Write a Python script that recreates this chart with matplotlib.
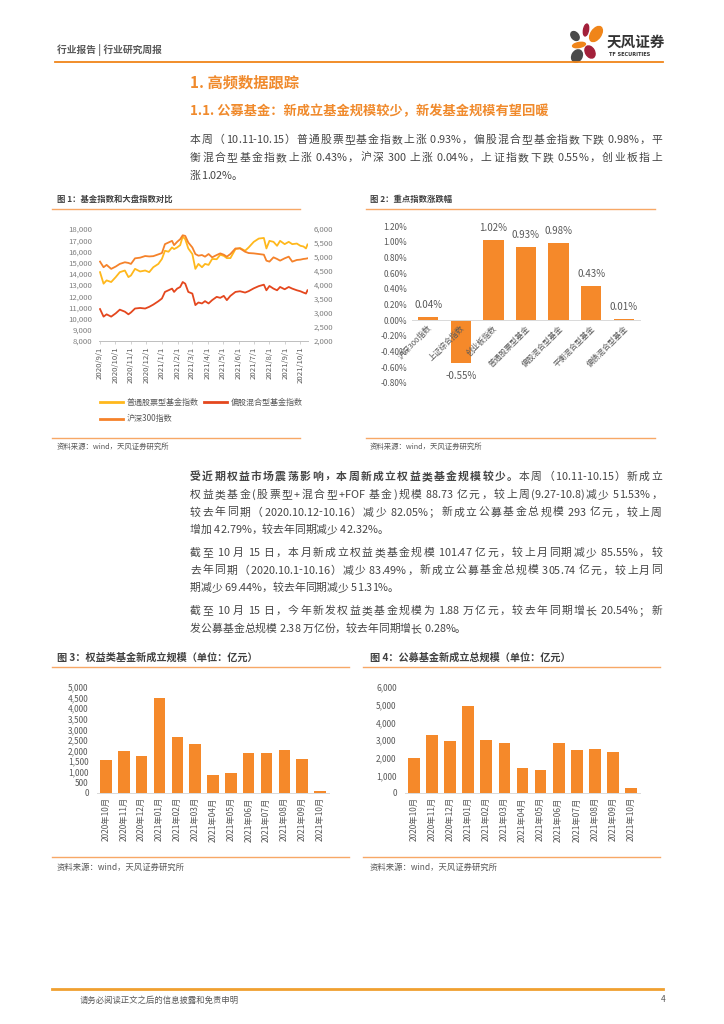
import numpy as np
import pandas as pd
import matplotlib
matplotlib.use('Agg')
import matplotlib.pyplot as plt
from matplotlib.lines import Line2D
from matplotlib.patches import Ellipse
from matplotlib.font_manager import FontProperties, findfont, get_font

plt.rcParams['font.family'] = ['Noto Sans CJK SC', 'DejaVu Sans']
plt.rcParams['axes.unicode_minus'] = False

W, H = 724, 1024
ORANGE = '#F08519'
BAR = '#F5892A'
LINE_LT = '#F7A866'
GRAY = '#595959'
BODY = '#454545'

# ---- 图1 数据
idx_dates = ['2020-09-01', '2020-09-08', '2020-09-14', '2020-09-23', '2020-10-02', '2020-10-10',
             '2020-10-20', '2020-10-27', '2020-11-01', '2020-11-09', '2020-11-19', '2020-11-29',
             '2020-12-07', '2020-12-15', '2020-12-25', '2021-01-01', '2021-01-07', '2021-01-14',
             '2021-01-21', '2021-01-25', '2021-01-31', '2021-02-06', '2021-02-11', '2021-02-16',
             '2021-02-22', '2021-03-02', '2021-03-08', '2021-03-14', '2021-03-21', '2021-03-27',
             '2021-04-03', '2021-04-10', '2021-04-19', '2021-04-26', '2021-05-03', '2021-05-09',
             '2021-05-16', '2021-05-26', '2021-06-04', '2021-06-14', '2021-06-21', '2021-07-01',
             '2021-07-11', '2021-07-21', '2021-07-26', '2021-08-01', '2021-08-09', '2021-08-16',
             '2021-08-22', '2021-08-31', '2021-09-08', '2021-09-15', '2021-09-24', '2021-10-01',
             '2021-10-07', '2021-10-12', '2021-10-15']
stock_fund = [14147, 13118, 13412, 13265, 13706, 14147, 14294, 13706, 13853, 14441, 14206, 14294,
              14147, 14588, 14882, 15324, 16059, 15971, 16353, 16206, 16353, 16559, 17324, 17088,
              16265, 15765, 14441, 14882, 14588, 14882, 14794, 15324, 15300, 15700, 15600, 15400,
              15400, 16200, 16300, 16059, 16353, 16850, 17147, 17200, 16265, 16941, 16853, 16500,
              16941, 16647, 16853, 16647, 16700, 16500, 16441, 16265, 16618]
mixed_fund = [10853, 10176, 10382, 10176, 10471, 10800, 10618, 10382, 10550, 10900, 10950, 10900,
              11050, 11250, 11550, 11794, 12382, 12529, 12676, 12382, 12676, 12824, 13265, 13118,
              12382, 12235, 11206, 11441, 11353, 11559, 11353, 11647, 11941, 11853, 12029, 11647,
              12029, 12382, 12441, 12324, 12450, 12700, 12900, 13029, 12529, 12912, 12676, 12529,
              12824, 12618, 12824, 12676, 12529, 12441, 12324, 12235, 12529]
hs300 = [4835, 4635, 4718, 4576, 4659, 4753, 4812, 4788, 4753, 4953, 4976, 5035,
         5020, 5030, 5094, 5141, 5459, 5518, 5576, 5424, 5541, 5635, 5776, 5753,
         5518, 5341, 5106, 5047, 5070, 5012, 5106, 4988, 5070, 5129, 5082, 5012,
         5106, 5306, 5306, 5188, 5141, 5129, 5106, 5082, 4870, 4835, 4988, 4930,
         4870, 4953, 5012, 4835, 4894, 4906, 4930, 4941, 4953]
series_names = ['普通股票型基金指数', '偏股混合型基金指数', '沪深300指数']
month_ticks = ['2020-09-01', '2020-10-01', '2020-11-01', '2020-12-01', '2021-01-01', '2021-02-01',
               '2021-03-01', '2021-04-01', '2021-05-01', '2021-06-01', '2021-07-01', '2021-08-01',
               '2021-09-01', '2021-10-01']
month_labels = ['2020/9/1', '2020/10/1', '2020/11/1', '2020/12/1', '2021/1/1', '2021/2/1',
                '2021/3/1', '2021/4/1', '2021/5/1', '2021/6/1', '2021/7/1', '2021/8/1',
                '2021/9/1', '2021/10/1']

# ---- 图2 数据
chg_names = ['沪深300指数', '上证综合指数', '创业板指数', '普通股票型基金', '偏股混合型基金',
             '平衡混合型基金', '偏债混合型基金']
chg_values = [0.04, -0.55, 1.02, 0.93, 0.98, 0.43, 0.01]

# ---- 图3/图4 数据
months = ['2020年10月', '2020年11月', '2020年12月', '2021年01月', '2021年02月', '2021年03月',
          '2021年04月', '2021年05月', '2021年06月', '2021年07月', '2021年08月', '2021年09月',
          '2021年10月']
equity_new = [1565, 1985, 1750, 4500, 2655, 2300, 865, 925, 1875, 1905, 2015, 1625, 101.47]
total_new = [1970, 3280, 2945, 4910, 2980, 2830, 1390, 1315, 2850, 2440, 2475, 2345, 305.74]

fig = plt.figure(figsize=(W / 100, H / 100), dpi=100)


def box(x0, y0, x1, y1):
    return [x0 / W, 1 - y1 / H, (x1 - x0) / W, (y1 - y0) / H]


def hline(x0, x1, y, color, lw):
    fig.add_artist(Line2D([x0 / W, x1 / W], [1 - y / H] * 2, transform=fig.transFigure,
                          color=color, lw=lw))


def txt(x, y, s, size, color=BODY, weight='normal', **kw):
    fig.text(x / W, 1 - y / H, s, fontsize=size, color=color, weight=weight,
             va='center', **kw)


def advance(ch, size, weight):
    f = get_font(findfont(FontProperties(family='Noto Sans CJK SC', weight=weight)))
    f.set_size(size, 100)
    return f.load_char(ord(ch)).linearHoriAdvance / 65536


def body_line(y, parts, justify=True, x=190, right=662, size=7.8):
    # 两端对齐：逐字排版，多余空间分配到中文字符之间
    chars = [(c, w) for s, w in parts for c in s]
    adv = [advance(c, size, w) for c, w in chars]
    gaps = [i for i in range(len(chars) - 1)
            if ord(chars[i][0]) > 255 or ord(chars[i + 1][0]) > 255]
    extra = (right - x - sum(adv)) / len(gaps) if justify and gaps else 0
    cx = x
    for i, (c, w) in enumerate(chars):
        if c != ' ':
            fig.text((cx + adv[i] / 2) / W, 1 - (y + 4) / H, c, fontsize=size, color=BODY,
                     weight=w, ha='center', va='baseline', family='Noto Sans CJK SC')
        cx += adv[i] + (extra if i in gaps else 0)


# ---- 页眉
txt(57, 50, '行业报告 | 行业研究周报', 7, GRAY, 'bold')
hline(55, 663, 62, ORANGE, 1.3)
petals = [((586, 30), 5, 12, -10, '#A3203A'), ((596, 34), 10, 17, -35, ORANGE),
          ((575, 36), 7, 10, 40, '#4A4A4A'), ((579, 45), 13, 5, 10, ORANGE),
          ((577, 56), 10, 13, -30, '#4A4A4A'), ((590, 52), 9, 13, 30, '#A3203A')]
for (cx, cy), w, h, a, c in petals:
    fig.add_artist(Ellipse((cx / 100, (H - cy) / 100), w / 100, h / 100, angle=a,
                           color=c, transform=fig.dpi_scale_trans))
txt(607, 42, '天风证券', 10.5, '#333333', 'bold')
txt(609, 55, 'TF SECURITIES', 3.6, '#333333', 'bold', family='DejaVu Sans')

# ---- 标题与正文
txt(190, 82, '1. 高频数据跟踪', 11, '#F08A2C', 'bold')
txt(190, 111, '1.1. 公募基金：新成立基金规模较少，新发基金规模有望回暖', 9.5, '#F08A2C', 'bold')
N, B = 'normal', 'bold'
body_line(139, [('本周（10.11-10.15）普通股票型基金指数上涨 0.93%，偏股混合型基金指数下跌 0.98%，平', N)])
body_line(157, [('衡混合型基金指数上涨 0.43%，沪深 300 上涨 0.04%，上证指数下跌 0.55%，创业板指上', N)])
body_line(175, [('涨1.02%。', N)], justify=False)

body_line(476, [('受近期权益市场震荡影响，本周新成立权益类基金规模较少。', B), ('本周（10.11-10.15）新成立', N)])
body_line(494, [('权益类基金(股票型+混合型+FOF 基金)规模 88.73 亿元，较上周(9.27-10.8)减少 51.53%，', N)])
body_line(511.5, [('较去年同期（2020.10.12-10.16）减少 82.05%；新成立公募基金总规模 293 亿元，较上周', N)])
body_line(529, [('增加 42.79%，较去年同期减少 42.32%。', N)], justify=False)
body_line(552, [('截至 10 月 15 日，本月新成立权益类基金规模 101.47 亿元，较上月同期减少 85.55%，较', N)])
body_line(569.5, [('去年同期（2020.10.1-10.16）减少 83.49%，新成立公募基金总规模 305.74 亿元，较上月同', N)])
body_line(587, [('期减少 69.44%，较去年同期减少 51.31%。', N)], justify=False)
body_line(610, [('截至 10 月 15 日，今年新发权益类基金规模为 1.88 万亿元，较去年同期增长 20.54%；新', N)])
body_line(628, [('发公募基金总规模 2.38 万亿份，较去年同期增长 0.28%。', N)], justify=False)

# ---- 图表框标题、来源
for x0, x1, tx, title in [(52, 300, 57, '图 1：基金指数和大盘指数对比'), (366, 655, 370, '图 2：重点指数涨跌幅')]:
    txt(tx, 199, title, 6, '#404040', 'bold')
    hline(x0, x1, 209, LINE_LT, 1.0)
    hline(x0, x1, 438, LINE_LT, 1.0)
    txt(tx, 447, '资料来源：wind，天风证券研究所', 5.3, GRAY)
for x0, x1, tx, title in [(52, 349, 57, '图 3：权益类基金新成立规模（单位：亿元）'),
                          (363, 660, 370, '图 4：公募基金新成立总规模（单位：亿元）')]:
    txt(tx, 658, title, 7.3, '#404040', 'bold')
    hline(x0, x1, 667, LINE_LT, 1.0)
    hline(x0, x1, 857, LINE_LT, 1.0)
    txt(tx, 867, '资料来源：wind，天风证券研究所', 6, GRAY)


def clean(ax):
    for s in ['top', 'left', 'right']:
        ax.spines[s].set_visible(False)
    ax.spines['bottom'].set_color('#D9D9D9')
    ax.spines['bottom'].set_linewidth(0.7)
    ax.tick_params(length=0, colors=GRAY)
    ax.patch.set_alpha(0)


# ---- 图1
dates = pd.to_datetime(idx_dates)
ax1 = fig.add_axes(box(99, 229, 308, 341))
l1, = ax1.plot(dates, stock_fund, color='#FFB81C', lw=1.3, label=series_names[0])
l2, = ax1.plot(dates, mixed_fund, color='#E4471E', lw=1.3, label=series_names[1])
ax1r = ax1.twinx()
l3, = ax1r.plot(dates, hs300, color='#F5822A', lw=1.3, label=series_names[2])
ax1.set_xlim(pd.Timestamp('2020-08-30'), pd.Timestamp('2021-10-16'))
ax1.set_ylim(8000, 18000)
ax1.set_yticks(range(8000, 18001, 1000))
ax1.set_yticklabels([f'{v:,}' for v in range(8000, 18001, 1000)], fontsize=5.6)
ax1r.set_ylim(2000, 6000)
ax1r.set_yticks(range(2000, 6001, 500))
ax1r.set_yticklabels([f'{v:,}' for v in range(2000, 6001, 500)], fontsize=5.6)
ax1.set_xticks(pd.to_datetime(month_ticks))
ax1.set_xticklabels(month_labels, rotation=90, fontsize=5.6)
clean(ax1)
clean(ax1r)
ax1r.spines['bottom'].set_visible(False)
ax1.spines['bottom'].set_color('#BFBFBF')
ax1.tick_params(axis='x', length=2.5, width=0.5, color='#BFBFBF', pad=1.5)
ax1.tick_params(axis='y', pad=5, colors='#7F7F7F')
ax1r.tick_params(axis='y', pad=4, colors='#7F7F7F')
ax1.legend([l1, l3, l2], [series_names[0], series_names[2], series_names[1]], ncol=2,
           loc='upper left', bbox_to_anchor=(97 / W, 1 - 395 / H), bbox_transform=fig.transFigure,
           frameon=False, fontsize=5.8, handlelength=2.8, handletextpad=0.5, columnspacing=0.7,
           labelspacing=0.9, borderaxespad=0, labelcolor=GRAY)
for lg in ax1.get_legend().get_lines():
    lg.set_linewidth(2.0)

# ---- 图2
ax2 = fig.add_axes(box(412, 226, 640, 383))
xs = np.arange(len(chg_values))
ax2.bar(xs, chg_values, width=0.62, color=BAR)
ax2.set_xlim(-0.5, len(chg_values) - 0.5)
ax2.set_ylim(-0.8, 1.2)
yt = np.round(np.arange(-0.8, 1.21, 0.2), 2) + 0.0
ax2.set_yticks(yt)
ax2.set_yticklabels([f'{abs(v):.2f}%' if abs(v) < 1e-9 else f'{v:.2f}%' for v in yt],
                    fontsize=6, color='#7F7F7F')
ax2.spines['bottom'].set_position(('data', 0))
clean(ax2)
ax2.set_xticks(xs)
ax2.set_xticklabels(chg_names, rotation=45, ha='right', va='top', rotation_mode='anchor',
                    fontsize=5.6, color=GRAY)
ax2.tick_params(axis='x', pad=3)
for i, v in enumerate(chg_values):
    ax2.text(i, v + (0.155 if v >= 0 else -0.155), f'{v:.2f}%', ha='center', va='center',
             fontsize=7, color=GRAY)

# ---- 图3 / 图4
for rect, vals, top, step in [((97, 687, 329, 793), equity_new, 5000, 500),
                              ((405, 687, 640, 793), total_new, 6000, 1000)]:
    ax = fig.add_axes(box(*rect))
    pos = np.arange(len(vals))
    ax.bar(pos, vals, width=0.65, color=BAR)
    ax.set_xlim(-0.5, len(vals) - 0.5)
    ax.set_ylim(0, top)
    ax.set_yticks(range(0, top + 1, step))
    ax.set_yticklabels([f'{v:,}' for v in range(0, top + 1, step)], fontsize=6, color='#7F7F7F')
    ax.set_xticks(pos)
    ax.set_xticklabels(months, rotation=90, fontsize=6, color=GRAY)
    clean(ax)
    ax.tick_params(axis='x', pad=3)
    ax.tick_params(axis='y', pad=6)

# ---- 页脚
hline(52, 663, 989, '#F0A030', 2.0)
txt(80, 1000, '请务必阅读正文之后的信息披露和免责申明', 6, GRAY)
txt(666, 1000, '4', 6, GRAY, ha='right')

fig.savefig('out.png', dpi=100)
